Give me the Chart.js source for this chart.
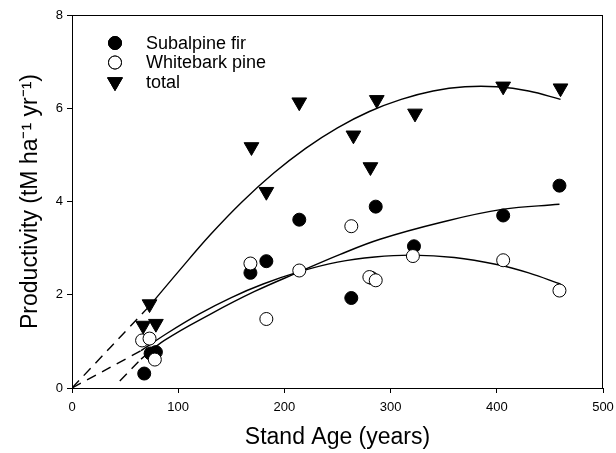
<!DOCTYPE html>
<html>
<head>
<meta charset="utf-8">
<script src="https://cdn.jsdelivr.net/npm/chart.js@4.4.1/dist/chart.umd.min.js"></script>
<style>
  html, body { margin: 0; padding: 0; background: #fff; }
  #wrap { width: 616px; height: 453px; }
</style>
</head>
<body>
<div id="wrap"><canvas id="grafico"></canvas></div>
<script>
// measured points
const firAge = [68, 74, 79, 168, 183, 214, 263, 282, 286, 322, 406, 459];
const firProd = [0.31, 0.74, 0.77, 2.47, 2.72, 3.61, 1.93, 2.36, 3.89, 3.04, 3.70, 4.34];

const pineAge = [66, 73, 78, 168, 183, 214, 263, 280, 286, 321, 406, 459];
const pineProd = [1.02, 1.06, 0.61, 2.67, 1.48, 2.52, 3.47, 2.38, 2.31, 2.83, 2.74, 2.09];

const totalAge = [67, 73, 79, 169, 183, 214, 265, 281, 287, 323, 406, 460];
const totalProd = [1.34, 1.80, 1.38, 5.17, 4.21, 6.13, 5.42, 4.74, 6.18, 5.89, 6.47, 6.43];

// fitted curves
const totalFitAge = [73, 100, 130, 160, 190, 220, 250, 280, 310, 340, 370, 400, 430, 460];
const totalFitVal = [1.76, 2.49, 3.28, 3.99, 4.61, 5.14, 5.58, 5.93, 6.19, 6.37, 6.46, 6.46, 6.37, 6.19];
const totalDashAge = [0, 73];
const totalDashVal = [0, 1.76];

const pineFitAge = [65, 90, 120, 150, 180, 215, 250, 285, 320, 360, 400, 430, 460];
const pineFitVal = [0.80, 1.18, 1.59, 1.94, 2.23, 2.50, 2.70, 2.81, 2.85, 2.80, 2.65, 2.47, 2.23];
const pineDashAge = [0, 65];
const pineDashVal = [0, 0.80];

const firFitAge = [65, 87, 130, 172, 215, 252, 290, 347, 405, 459];
const firFitVal = [0.62, 1.02, 1.58, 2.07, 2.50, 2.86, 3.19, 3.55, 3.83, 3.94];
const firDashAge = [45, 65];
const firDashVal = [0.15, 0.62];

const xTicks = [0, 100, 200, 300, 400, 500];
const yTicks = [0, 2, 4, 6, 8];

const FUENTE = "'Liberation Sans', Arial, sans-serif";
Chart.defaults.font.family = FUENTE;
Chart.defaults.color = "#000";

function puntos(xs, ys) {
  return xs.map((x, i) => ({ x: x, y: ys[i] }));
}

function curva(xs, ys, dash) {
  return {
    label: "",
    data: puntos(xs, ys),
    showLine: true,
    borderColor: "#000",
    borderWidth: 1.4,
    borderDash: dash || [],
    pointRadius: 0,
    tension: 0.4,
    order: 5,
    esLeyenda: false
  };
}

// marco completo y leyenda dentro del área
const marcoYLeyenda = {
  id: "marcoYLeyenda",
  afterDraw(chart) {
    const { ctx, chartArea } = chart;
    ctx.save();
    ctx.strokeStyle = "#000";
    ctx.lineWidth = 1;
    ctx.strokeRect(chartArea.left + 0.5, chartArea.top + 0.5,
      chartArea.right - chartArea.left - 1, chartArea.bottom - chartArea.top);

    const series = chart.data.datasets.filter(d => d.esLeyenda);
    const x0 = chartArea.left + 43;
    let y0 = chartArea.top + 28;
    ctx.font = "18px " + FUENTE;
    ctx.textBaseline = "middle";
    ctx.fillStyle = "#000";
    series.forEach(d => {
      Chart.helpers.drawPoint(ctx, {
        pointStyle: d.pointStyle,
        radius: d.pointRadius,
        rotation: d.rotation || 0,
        borderWidth: d.borderWidth
      }, x0, y0);
      ctx.fillStyle = d.backgroundColor;
      ctx.strokeStyle = "#000";
      ctx.lineWidth = d.borderWidth;
      ctx.fill();
      ctx.stroke();
      ctx.fillStyle = "#000";
      ctx.fillText(d.label, x0 + 31, y0 + 1);
      y0 += 19.5;
    });
    ctx.restore();
  }
};

const ctx = document.getElementById("grafico").getContext("2d");

new Chart(ctx, {
  type: "scatter",
  data: {
    datasets: [
      {
        label: "Subalpine fir",
        data: puntos(firAge, firProd),
        pointStyle: "circle",
        pointRadius: 6.5,
        backgroundColor: "#000",
        borderColor: "#000",
        borderWidth: 1,
        order: 2,
        esLeyenda: true
      },
      {
        label: "Whitebark pine",
        data: puntos(pineAge, pineProd),
        pointStyle: "circle",
        pointRadius: 6.5,
        backgroundColor: "#fff",
        borderColor: "#000",
        borderWidth: 1,
        order: 1,
        esLeyenda: true
      },
      {
        label: "total",
        data: puntos(totalAge, totalProd),
        pointStyle: "triangle",
        rotation: 180,
        pointRadius: 8.5,
        backgroundColor: "#000",
        borderColor: "#000",
        borderWidth: 1,
        order: 0,
        esLeyenda: true
      },
      curva(totalFitAge, totalFitVal),
      curva(totalDashAge, totalDashVal, [10, 7]),
      curva(pineFitAge, pineFitVal),
      curva(pineDashAge, pineDashVal, [10, 7]),
      curva(firFitAge, firFitVal),
      curva(firDashAge, firDashVal, [10, 7])
    ]
  },
  options: {
    responsive: true,
    maintainAspectRatio: false,
    animation: false,
    layout: { padding: { top: 15, right: 13, left: 0, bottom: 0 } },
    plugins: {
      legend: { display: false },
      tooltip: { enabled: false }
    },
    scales: {
      x: {
        type: "linear",
        min: 0,
        max: 500,
        afterBuildTicks: s => { s.ticks = xTicks.map(v => ({ value: v })); },
        ticks: { font: { size: 13 }, padding: 7, maxRotation: 0 },
        grid: { drawOnChartArea: false, tickLength: 5, color: "#000" },
        border: { color: "#000", width: 1 },
        title: {
          display: true,
          text: "Stand Age (years)",
          font: { size: 23 },
          padding: { top: 0, bottom: 2 }
        },
        afterFit: s => {
          s.height = 65;
          s.paddingLeft = 0;
          s.paddingRight = 0;
        }
      },
      y: {
        min: 0,
        max: 8,
        afterBuildTicks: s => { s.ticks = yTicks.map(v => ({ value: v })); },
        ticks: { font: { size: 13 }, padding: 4 },
        grid: { drawOnChartArea: false, tickLength: 5, color: "#000" },
        border: { color: "#000", width: 1 },
        title: {
          display: true,
          text: "Productivity (tM ha\u207B\u00B9 yr\u207B\u00B9)",
          font: { size: 23 },
          padding: { top: 17, bottom: 0 }
        },
        afterFit: s => {
          s.width = 72;
          s.paddingTop = 0;
          s.paddingBottom = 0;
        }
      }
    }
  },
  plugins: [marcoYLeyenda]
});
</script>
</body>
</html>
